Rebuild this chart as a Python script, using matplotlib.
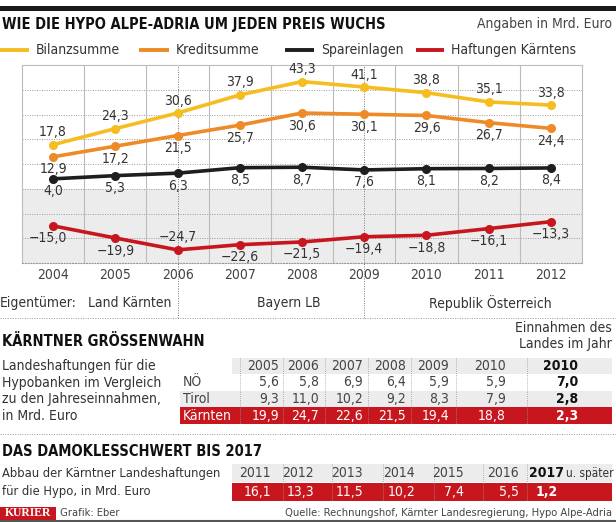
import matplotlib
matplotlib.use("Agg")
import matplotlib.pyplot as plt
from matplotlib import font_manager as fm
from matplotlib.patches import Rectangle

# pick the narrowest sans that is installed
_fonts = [(f.name, str(f.stretch)) for f in fm.fontManager.ttflist]
if any(n == "Liberation Sans Narrow" for n, s in _fonts):
    FAMILY, STRETCH = "Liberation Sans Narrow", "normal"
elif any(n == "DejaVu Sans" and "condensed" in s for n, s in _fonts):
    FAMILY, STRETCH = "DejaVu Sans", "condensed"
elif any(n == "Roboto Condensed" for n, s in _fonts):
    FAMILY, STRETCH = "Roboto Condensed", "normal"
else:
    FAMILY, STRETCH = "Liberation Sans", "normal"
plt.rcParams["font.family"] = [FAMILY, "DejaVu Sans"]
plt.rcParams["font.stretch"] = STRETCH

# --- data -------------------------------------------------------------
years = ["2004", "2005", "2006", "2007", "2008", "2009", "2010", "2011", "2012"]
bilanz = [17.8, 24.3, 30.6, 37.9, 43.3, 41.1, 38.8, 35.1, 33.8]
kredit = [12.9, 17.2, 21.5, 25.7, 30.6, 30.1, 29.6, 26.7, 24.4]
spar = [4.0, 5.3, 6.3, 8.5, 8.7, 7.6, 8.1, 8.2, 8.4]
haftung = [-15.0, -19.9, -24.7, -22.6, -21.5, -19.4, -18.8, -16.1, -13.3]

owners = ["Land Kärnten", "Bayern LB", "Republik Österreich"]
owner_change = ["2006", "2009"]

tab_years = ["2005", "2006", "2007", "2008", "2009", "2010"]
tab_rows = ["NÖ", "Tirol", "Kärnten"]
tab_noe = [5.6, 5.8, 6.9, 6.4, 5.9, 5.9]
tab_tirol = [9.3, 11.0, 10.2, 9.2, 8.3, 7.9]
tab_ktn = [19.9, 24.7, 22.6, 21.5, 19.4, 18.8]
income_2010 = [7.0, 2.8, 2.3]

abbau_years = ["2011", "2012", "2013", "2014", "2015", "2016"]
abbau = [16.1, 13.3, 11.5, 10.2, 7.4, 5.5]
abbau_rest = 1.2

YELLOW = "#F5BD1F"
ORANGE = "#EE8B27"
BLACK = "#1E1E1E"
RED = "#C8161E"
GRAY_BG = "#ECECEC"
TXT = "#333333"
FS = 10
FS_HEAD = 10.5


def fmt(v):
    return f"{v:.1f}".replace(".", ",").replace("-", "\u2212")


fig = plt.figure(figsize=(6.16, 5.22), dpi=100)

# page layer in pixel coordinates for all the furniture
page = fig.add_axes([0, 0, 1, 1], zorder=0)
page.set_xlim(0, 616)
page.set_ylim(522, 0)
page.axis("off")

page.add_patch(Rectangle((0, 6), 616, 5, color="#1a1a1a", lw=0))
page.text(2, 24, "WIE DIE HYPO ALPE-ADRIA UM JEDEN PREIS WUCHS", fontsize=FS_HEAD,
          fontweight="bold", va="center", color="#111")
page.text(612, 24, "Angaben in Mrd. Euro", fontsize=FS, ha="right", va="center", color="#444")

legend = [("Bilanzsumme", YELLOW, 0, 29), ("Kreditsumme", ORANGE, 139, 169),
          ("Spareinlagen", BLACK, 285, 314), ("Haftungen Kärntens", RED, 416, 444)]
for name, col, x0, x1 in legend:
    page.plot([x0, x1], [50, 50], color=col, lw=2.8, solid_capstyle="butt")
    page.text(x1 + 7, 50, name, fontsize=FS, va="center", color=TXT)

# --- line chart -------------------------------------------------------
ax = fig.add_axes([22 / 616, 1 - 263 / 522, 560 / 616, 198 / 522], zorder=1)
x = list(range(len(years)))
ax.set_xlim(-0.5, len(years) - 0.5)
ax.set_ylim(-30, 50)
ax.axhspan(-30, 0, color=GRAY_BG, lw=0, zorder=0)
for gy in (-20, -10, 0, 10, 20, 30, 40):
    ax.axhline(gy, color="#999999", lw=0.7, ls=(0, (1, 1.5)), zorder=1)
for gx in range(len(years) - 1):
    ax.axvline(gx + 0.5, color="#bbbbbb", lw=0.8, zorder=1)
for yr in owner_change:
    ax.axvline(years.index(yr), ymin=-0.28, ymax=1, color="#777777", lw=0.7,
               ls=(0, (1, 1.5)), clip_on=False, zorder=1)

series = [(bilanz, YELLOW), (kredit, ORANGE), (spar, BLACK), (haftung, RED)]
for vals, col in series:
    ax.plot(x, vals, color=col, lw=2.6, marker="o", ms=5.5, zorder=3)

for i in x:
    ax.annotate(fmt(bilanz[i]), (i, bilanz[i]), xytext=(0, 9), textcoords="offset points",
                ha="center", va="center", fontsize=FS, color=TXT)
    ax.annotate(fmt(kredit[i]), (i, kredit[i]), xytext=(0, -9), textcoords="offset points",
                ha="center", va="center", fontsize=FS, color=TXT)
    ax.annotate(fmt(spar[i]), (i, spar[i]), xytext=(0, -9), textcoords="offset points",
                ha="center", va="center", fontsize=FS, color=TXT)
    dy = 9 if years[i] == "2006" else -9
    dx = -4 if i == 0 else 0
    ax.annotate(fmt(haftung[i]), (i, haftung[i]), xytext=(dx, dy), textcoords="offset points",
                ha="center", va="center", fontsize=FS, color=TXT)

ax.set_xticks(x)
ax.set_xticklabels(years, fontsize=FS, color="#444")
ax.tick_params(length=0, pad=3.5)
ax.set_yticks([])
for sp in ax.spines.values():
    sp.set_color("#bbbbbb")
    sp.set_linewidth(0.8)
ax.spines["bottom"].set_linestyle((0, (1, 1.5)))
ax.spines["bottom"].set_color("#999999")

# owners row
page.text(0, 303, "Eigentümer:", fontsize=FS, va="center", color=TXT)
for name, px in zip(owners, (130, 289, 490)):
    page.text(px, 303, name, fontsize=FS, ha="center", va="center", color=TXT)
page.plot([0, 616], [318, 318], color="#999999", lw=0.7, ls=(0, (1, 1.5)))

# --- section 2 --------------------------------------------------------
page.text(2, 342, "KÄRNTNER GRÖSSENWAHN", fontsize=FS_HEAD, fontweight="bold", va="center", color="#111")
page.text(612, 328, "Einnahmen des", fontsize=FS, ha="right", va="center", color=TXT)
page.text(612, 344, "Landes im Jahr", fontsize=FS, ha="right", va="center", color=TXT)
for k, line in enumerate(["Landeshaftungen für die", "Hypobanken im Vergleich",
                          "zu den Jahreseinnahmen,", "in Mrd. Euro"]):
    page.text(2, 366 + k * 16.5, line, fontsize=FS, va="center", color=TXT)

col_right = [279, 319, 363, 406, 449, 506]
col_sep = [240, 283, 325, 368, 411, 456, 527]
row_y = [366, 382.5, 399, 415.5]
row_h = 16.5
page.add_patch(Rectangle((232, row_y[0] - row_h / 2), 380, row_h, color=GRAY_BG, lw=0))
page.add_patch(Rectangle((180, row_y[2] - row_h / 2), 432, row_h, color=GRAY_BG, lw=0))
page.add_patch(Rectangle((180, row_y[3] - row_h / 2), 432, row_h, color=RED, lw=0))
for sx in col_sep:
    page.plot([sx, sx], [row_y[0] - row_h / 2, row_y[3] + row_h / 2], color="#999999", lw=0.6,
              ls=(0, (1, 1.5)), zorder=1)
for cr, yr in zip(col_right, tab_years):
    page.text(cr, row_y[0], yr, fontsize=FS, ha="right", va="center", color="#444")
page.text(578, row_y[0], "2010", fontsize=FS, fontweight="bold", ha="right", va="center", color="#111")
for r, (name, vals) in enumerate(zip(tab_rows, [tab_noe, tab_tirol, tab_ktn])):
    yy = row_y[r + 1]
    col = "white" if name == "Kärnten" else "#444"
    page.text(183, yy, name, fontsize=FS, va="center", color=col, zorder=2)
    for cr, v in zip(col_right, vals):
        page.text(cr, yy, fmt(v), fontsize=FS, ha="right", va="center", color=col, zorder=2)
    page.text(578, yy, fmt(income_2010[r]), fontsize=FS, fontweight="bold", ha="right",
              va="center", color="white" if name == "Kärnten" else "#111", zorder=2)
page.plot([0, 616], [434, 434], color="#999999", lw=0.7, ls=(0, (1, 1.5)))

# --- section 3 --------------------------------------------------------
page.text(2, 451, "DAS DAMOKLESSCHWERT BIS 2017", fontsize=FS_HEAD, fontweight="bold", va="center", color="#111")
page.text(2, 473, "Abbau der Kärntner Landeshaftungen", fontsize=9.3, va="center", color=TXT)
page.text(2, 492, "für die Hypo, in Mrd. Euro", fontsize=9.3, va="center", color=TXT)
ab_right = [271, 314, 363, 415, 464, 519]
ab_sep = [283, 332, 383, 434, 483, 527]
page.add_patch(Rectangle((232, 464), 380, 18, color=GRAY_BG, lw=0))
page.add_patch(Rectangle((232, 483), 380, 18, color=RED, lw=0))
for sx in ab_sep:
    page.plot([sx, sx], [464, 501], color="#999999", lw=0.6, ls=(0, (1, 1.5)), zorder=1)
for cr, yr, v in zip(ab_right, abbau_years, abbau):
    page.text(cr, 473, yr, fontsize=FS, ha="right", va="center", color="#444", zorder=2)
    page.text(cr, 492, fmt(v), fontsize=FS, ha="right", va="center", color="white", zorder=2)
page.text(529, 473, "2017", fontsize=FS, fontweight="bold", va="center", color="#111")
page.text(614, 473, "u. später", fontsize=8.5, ha="right", va="center", color="#333")
page.text(536, 492, fmt(abbau_rest), fontsize=FS, fontweight="bold", va="center", color="white")

# --- footer -----------------------------------------------------------
page.add_patch(Rectangle((0, 507), 56, 13, color=RED, lw=0))
page.text(28, 513.5, "KURIER", fontsize=8.5, fontweight="bold", family="Liberation Serif",
          ha="center", va="center", color="white")
page.text(60, 513.5, "Grafik: Eber", fontsize=8, va="center", color="#444")
page.text(612, 513.5, "Quelle: Rechnungshof, Kärnter Landesregierung, Hypo Alpe-Adria",
          fontsize=8, ha="right", va="center", color="#444")
page.plot([0, 616], [521, 521], color="#555555", lw=1.5)

fig.savefig("out.png", dpi=100)
